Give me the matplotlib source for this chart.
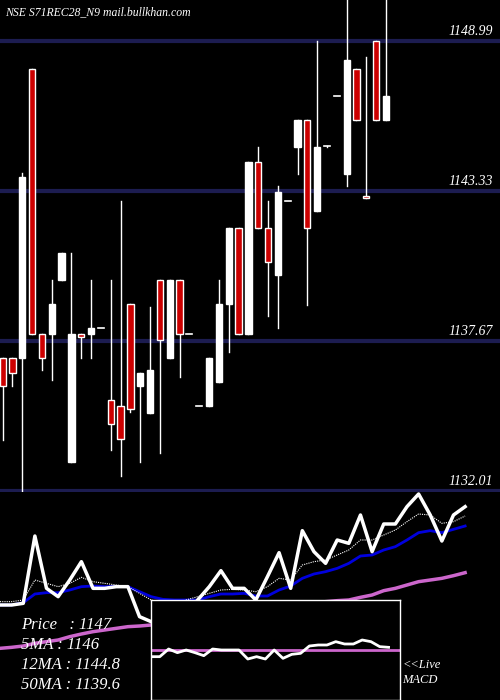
import matplotlib
matplotlib.use("Agg")
import matplotlib.pyplot as plt
from matplotlib.patches import Rectangle

# candles: open, high, low, close
opens = [1137.03, 1137.03, 1137.03, 1147.94, 1137.93, 1137.93, 1139.96, 1133.12, 1137.93, 1137.93,
         1138.16, 1135.45, 1135.20, 1139.08, 1135.99, 1134.97, 1139.96, 1137.03, 1139.96, 1137.93,
         1135.20, 1135.20, 1136.11, 1139.08, 1141.93, 1137.93, 1144.43, 1141.93, 1140.17, 1142.95,
         1144.99, 1146.03, 1142.60, 1145.04, 1146.92, 1143.97, 1147.94, 1143.13, 1149.00, 1146.03]
highs = [1137.03, 1137.03, 1144.00, 1147.94, 1137.93, 1139.96, 1140.99, 1140.99, 1137.93, 1139.96,
         1138.16, 1139.96, 1142.95, 1139.08, 1136.46, 1138.95, 1139.96, 1139.96, 1139.96, 1137.93,
         1135.20, 1137.03, 1139.96, 1141.93, 1141.93, 1144.43, 1145.01, 1142.95, 1143.53, 1142.95,
         1146.03, 1146.03, 1149.00, 1145.04, 1146.92, 1150.55, 1147.94, 1148.40, 1149.00, 1150.55]
lows = [1133.94, 1135.99, 1131.99, 1137.93, 1136.59, 1136.21, 1139.96, 1133.12, 1137.03, 1137.03,
        1138.16, 1133.56, 1132.56, 1134.98, 1133.12, 1134.97, 1133.46, 1137.03, 1136.33, 1137.93,
        1135.20, 1135.20, 1136.11, 1137.24, 1137.93, 1137.93, 1141.93, 1138.60, 1138.16, 1142.95,
        1143.97, 1139.04, 1142.60, 1144.99, 1146.92, 1143.53, 1146.03, 1143.07, 1146.03, 1146.03]
closes = [1135.99, 1136.46, 1143.88, 1137.93, 1137.03, 1139.08, 1140.99, 1137.93, 1137.82, 1138.16,
          1138.16, 1134.53, 1133.97, 1135.10, 1136.46, 1136.59, 1137.72, 1139.96, 1137.93, 1137.93,
          1135.20, 1137.03, 1139.08, 1141.93, 1137.93, 1144.43, 1141.93, 1140.65, 1143.29, 1142.95,
          1146.03, 1141.93, 1144.99, 1144.99, 1146.92, 1148.30, 1146.03, 1143.07, 1146.03, 1146.92]
price_levels = [1148.99, 1143.33, 1137.67, 1132.01]

# lower panel indicator lines (arbitrary units)
price_line = [155, 155, 160, 362, 205, 180, 230, 285, 205, 205, 210, 210, 120, 105, 100, 100, 130,
              170, 210, 258, 205, 205, 170, 240, 312, 205, 378, 315, 280, 350, 340, 425, 315, 398,
              398, 450, 488, 425, 347, 425, 450]
ma5 = [165, 165, 170, 230, 220, 210, 220, 238, 225, 220, 215, 210, 190, 170, 160, 155, 170, 180,
       190, 200, 202, 200, 195, 210, 235, 230, 275, 285, 290, 305, 320, 350, 350, 365, 380, 405,
       428, 425, 400, 405, 422]
ma12 = [155, 155, 162, 188, 192, 192, 200, 210, 212, 210, 211, 210, 195, 180, 172, 170, 170, 170,
        180, 188, 188, 190, 182, 182, 200, 212, 235, 248, 255, 265, 280, 302, 305, 320, 330, 350,
        372, 378, 372, 382, 392]
ma50 = [25, 28, 32, 40, 45, 50, 60, 68, 75, 80, 85, 90, 92, 95, 100, 105, 110, 115, 120, 125, 130,
        135, 140, 145, 150, 154, 158, 162, 165, 168, 170, 178, 185, 198, 205, 215, 225, 230, 235,
        243, 252]
macd = [-20, -20, 3, -8, 0, -8, -17, 3, 0, 0, 0, -27, -20, -27, 0, -25, -13, -10, 12, 15, 15, 25,
        18, 18, 30, 25, 10, 8]

title = "NSE S71REC28_N9 mail.bullkhan.com"
legend_lines = ["Price   : 1147", "5MA : 1146", "12MA : 1144.8", "50MA : 1139.6"]

serif = dict(family="Liberation Serif", style="italic", color="white")
fig = plt.figure(figsize=(5, 7), dpi=100, facecolor="black")

# price panel
ax = fig.add_axes([0, 208 / 700, 1, 492 / 700])
ax.set_facecolor("black")
ax.set_xlim(-0.27, 50.6)
ax.set_ylim(1131.97, 1150.55)
ax.axis("off")
for lv in price_levels:
    ax.axhline(lv, color="#1c1c50", lw=3, zorder=1)
    ax.text(49.9, lv + 0.12, f"{lv:.2f}", ha="right", va="bottom", fontsize=10, **serif)
for i, (o, h, l, c) in enumerate(zip(opens, highs, lows, closes)):
    ax.plot([i, i], [l, h], color="white", lw=1, zorder=2)
    lo, hi = min(o, c), max(o, c)
    if hi - lo < 0.05:
        ax.plot([i - 0.3, i + 0.3], [o, o], color="white", lw=1.2, zorder=3)
        continue
    fc = "#cc0000" if c < o else "white"
    ax.add_patch(Rectangle((i - 0.32, lo), 0.64, hi - lo, facecolor=fc, edgecolor="white",
                           lw=1, zorder=3))
ax.text(5 / 9.83 - 0.27, 1150.1, title, ha="left", va="center", fontsize=8.5, **serif)

# indicator panel
bx = fig.add_axes([0, 0, 1, 208 / 700])
bx.set_facecolor("black")
bx.set_xlim(0, 43)
bx.set_ylim(-130, 494)
bx.axis("off")
idx = range(len(price_line))
bx.plot(idx, ma50, color="#cc66cc", lw=2.5)
bx.plot(idx, ma12, color="#0000dd", lw=2)
bx.plot(idx, ma5, color="white", lw=0.8, ls=(0, (1, 1)))
bx.plot(idx, price_line, color="white", lw=2.5)
for k, s in enumerate(legend_lines):
    bx.text(1.8, 95 - k * 60, s, ha="left", va="center", fontsize=12, **serif)
bx.text(34.6, -25, "<<Live", ha="left", va="center", fontsize=9, **serif)
bx.text(34.6, -70, "MACD", ha="left", va="center", fontsize=9, **serif)

# MACD inset
cx = fig.add_axes([151 / 500, 0, 249 / 500, 100 / 700])
cx.set_facecolor("black")
cx.set_xlim(0, 28.3)
cx.set_ylim(-150, 150)
cx.set_xticks([])
cx.set_yticks([])
for sp in cx.spines.values():
    sp.set_color("white")
    sp.set_linewidth(1)
cx.axhline(0, color="#cc66cc", lw=2)
cx.plot(range(len(macd)), macd, color="white", lw=2)

fig.savefig("out.png", facecolor="black")
